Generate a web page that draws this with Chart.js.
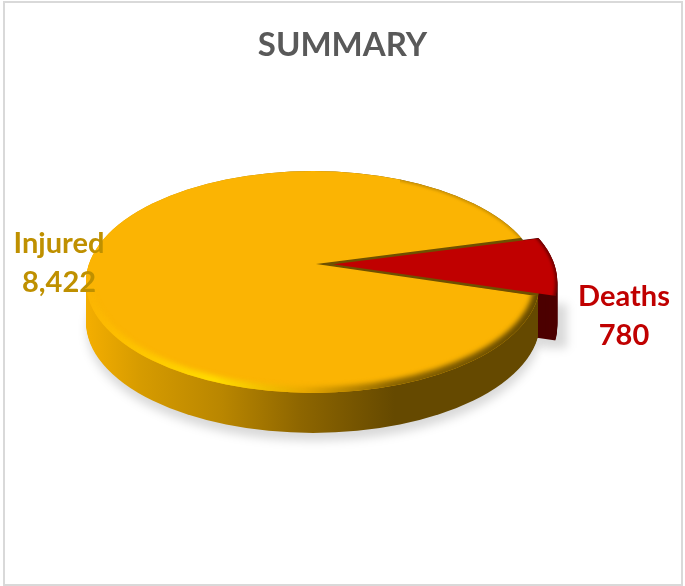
<!DOCTYPE html>
<html>
<head>
<meta charset="utf-8">
<title>Summary</title>
<script src="https://cdn.jsdelivr.net/npm/chart.js@4"></script>
<style>
  html, body { margin: 0; background: #fff; }
  #wrap { position: relative; width: 685px; height: 586px; overflow: hidden; }
  #frame { position: absolute; left: 3px; top: 1px; width: 676px; height: 581px; border: 2px solid #d9d9d9; }
  canvas { position: absolute; left: 0; top: 0; }
</style>
</head>
<body>
<div id="wrap">
  <div id="frame"></div>
  <canvas id="chart" width="685" height="586"></canvas>
</div>
<script>
const categories = ["Injured", "Deaths"];
const values = [8422, 780];
const topColors = ["#fbb403", "#c00000"];
const labelColors = ["#bf9000", "#c00000"];

// where the tilted pie sits on the page
const APEX = { x: 316, y: 264 };
const FACE = { cx: 313, cy: 282, rx: 227, ry: 111 };
const DEPTH = 40;
const REACH = 280;
const SQUASH = 0.5;
const LABEL_SPOTS = [
  { x: 59, y: 244 },
  { x: 624, y: 297 },
];

function sliceShift(el, scale) {
  const mid = (el.startAngle + el.endAngle) / 2;
  const off = (el.options.offset || 0) / 4;
  return {
    x: Math.cos(mid) * off * scale,
    y: Math.sin(mid) * off * scale * SQUASH,
  };
}

function ellipsePath(ctx, dx, dy) {
  ctx.beginPath();
  ctx.ellipse(FACE.cx + dx, FACE.cy + dy, FACE.rx, FACE.ry, 0, 0, Math.PI * 2);
}

function slicePath(ctx, el, scale, dx, dy) {
  ctx.save();
  ctx.translate(APEX.x + dx, APEX.y + dy);
  ctx.scale(scale, scale * SQUASH);
  ctx.beginPath();
  ctx.moveTo(0, 0);
  ctx.arc(0, 0, el.outerRadius * 1.2, el.startAngle, el.endAngle);
  ctx.closePath();
  ctx.restore();
}

function fillSide(ctx, el, scale, fill, depth) {
  const s = sliceShift(el, scale);
  for (let d = depth; d >= 0; d--) {
    ctx.save();
    slicePath(ctx, el, scale, s.x, s.y + d);
    ctx.clip();
    ellipsePath(ctx, s.x, s.y + d);
    ctx.fillStyle = fill;
    ctx.fill();
    ctx.restore();
  }
}

function drawTop(ctx, el, scale) {
  const s = sliceShift(el, scale);
  ctx.save();
  ellipsePath(ctx, s.x, s.y);
  ctx.clip();
  ctx.translate(APEX.x, APEX.y);
  ctx.scale(scale, scale * SQUASH);
  ctx.translate(-el.x, -el.y);
  el.draw(ctx);
  ctx.restore();
}

function drawRim(ctx, el, scale, stroke, width, blur) {
  const s = sliceShift(el, scale);
  ctx.save();
  slicePath(ctx, el, scale, s.x, s.y);
  ctx.clip();
  ellipsePath(ctx, s.x, s.y);
  ctx.clip();
  ctx.filter = "blur(" + blur + "px)";
  ellipsePath(ctx, s.x, s.y);
  ctx.strokeStyle = stroke;
  ctx.lineWidth = width;
  ctx.stroke();
  ctx.restore();
}

const tiltedPie = {
  id: "tiltedPie",
  beforeDatasetsDraw(chart) {
    const ctx = chart.ctx;
    const [injured, deaths] = chart.getDatasetMeta(0).data;
    const scale = REACH / injured.outerRadius;

    // soft shadow under the pie
    ctx.save();
    ctx.filter = "blur(5px)";
    ctx.fillStyle = "rgba(0,0,0,0.15)";
    ellipsePath(ctx, 1, DEPTH + 8);
    ctx.fill();
    ctx.fillRect(540, 304, 27, 44);
    ctx.restore();

    // side walls
    fillSide(ctx, deaths, scale, "#4d0000", DEPTH + 4);
    const wall = ctx.createLinearGradient(FACE.cx - FACE.rx, 0, FACE.cx + FACE.rx, 0);
    wall.addColorStop(0, "#f4ae00");
    wall.addColorStop(0.12, "#d69b00");
    wall.addColorStop(0.3, "#b98600");
    wall.addColorStop(0.47, "#8e6600");
    wall.addColorStop(0.68, "#654900");
    wall.addColorStop(1, "#654900");
    fillSide(ctx, injured, scale, wall, DEPTH);

    // cut face left behind by the pulled-out slice
    ctx.save();
    ellipsePath(ctx, 0, 0);
    ctx.clip();
    slicePath(ctx, deaths, scale, 0, 0);
    ctx.fillStyle = "#6e5000";
    ctx.fill();
    ctx.restore();

    drawTop(ctx, injured, scale);

    // bevel on the front of the yellow face
    const bevel = ctx.createLinearGradient(FACE.cx - FACE.rx, 0, FACE.cx + FACE.rx, 0);
    bevel.addColorStop(0, "#fbb403");
    bevel.addColorStop(0.08, "#fdc000");
    bevel.addColorStop(0.28, "#ffdc00");
    bevel.addColorStop(0.48, "#e8a800");
    bevel.addColorStop(0.68, "#8a6400");
    bevel.addColorStop(1, "#654900");
    ctx.save();
    ctx.beginPath();
    ctx.rect(0, FACE.cy + 6, 685, 200);
    ctx.clip();
    drawRim(ctx, injured, scale, bevel, 12, 2.5);
    ctx.restore();
    ctx.save();
    ctx.beginPath();
    ctx.rect(400, 150, 200, 120);
    ctx.clip();
    drawRim(ctx, injured, scale, "rgba(120,85,0,0.45)", 3, 1.5);
    ctx.restore();

    drawTop(ctx, deaths, scale);
    drawRim(ctx, deaths, scale, "rgba(70,0,0,0.7)", 4, 1.5);

    return false;
  },
  // afterDatasetsDraw does not fire once the dataset draw is cancelled above
  afterDraw(chart) {
    const ctx = chart.ctx;
    ctx.save();
    ctx.font = "bold 29px Lato";
    ctx.textAlign = "center";
    ctx.textBaseline = "middle";
    categories.forEach((name, i) => {
      ctx.fillStyle = labelColors[i];
      ctx.fillText(name, LABEL_SPOTS[i].x, LABEL_SPOTS[i].y);
      ctx.fillText(values[i].toLocaleString("en-US"), LABEL_SPOTS[i].x, LABEL_SPOTS[i].y + 39);
    });
    ctx.restore();
  },
};

new Chart(document.getElementById("chart"), {
  type: "pie",
  data: {
    labels: categories,
    datasets: [
      {
        data: values,
        backgroundColor: topColors,
        borderWidth: 0,
        offset: [0, 56],
      },
    ],
  },
  options: {
    responsive: false,
    animation: false,
    rotation: 106.2,
    plugins: {
      legend: { display: false },
      tooltip: { enabled: false },
      title: {
        display: true,
        text: "SUMMARY",
        color: "#595959",
        font: { family: "Lato", size: 33, weight: "bold" },
        padding: { top: 26, bottom: 10 },
      },
    },
  },
  plugins: [tiltedPie],
});
</script>
</body>
</html>
